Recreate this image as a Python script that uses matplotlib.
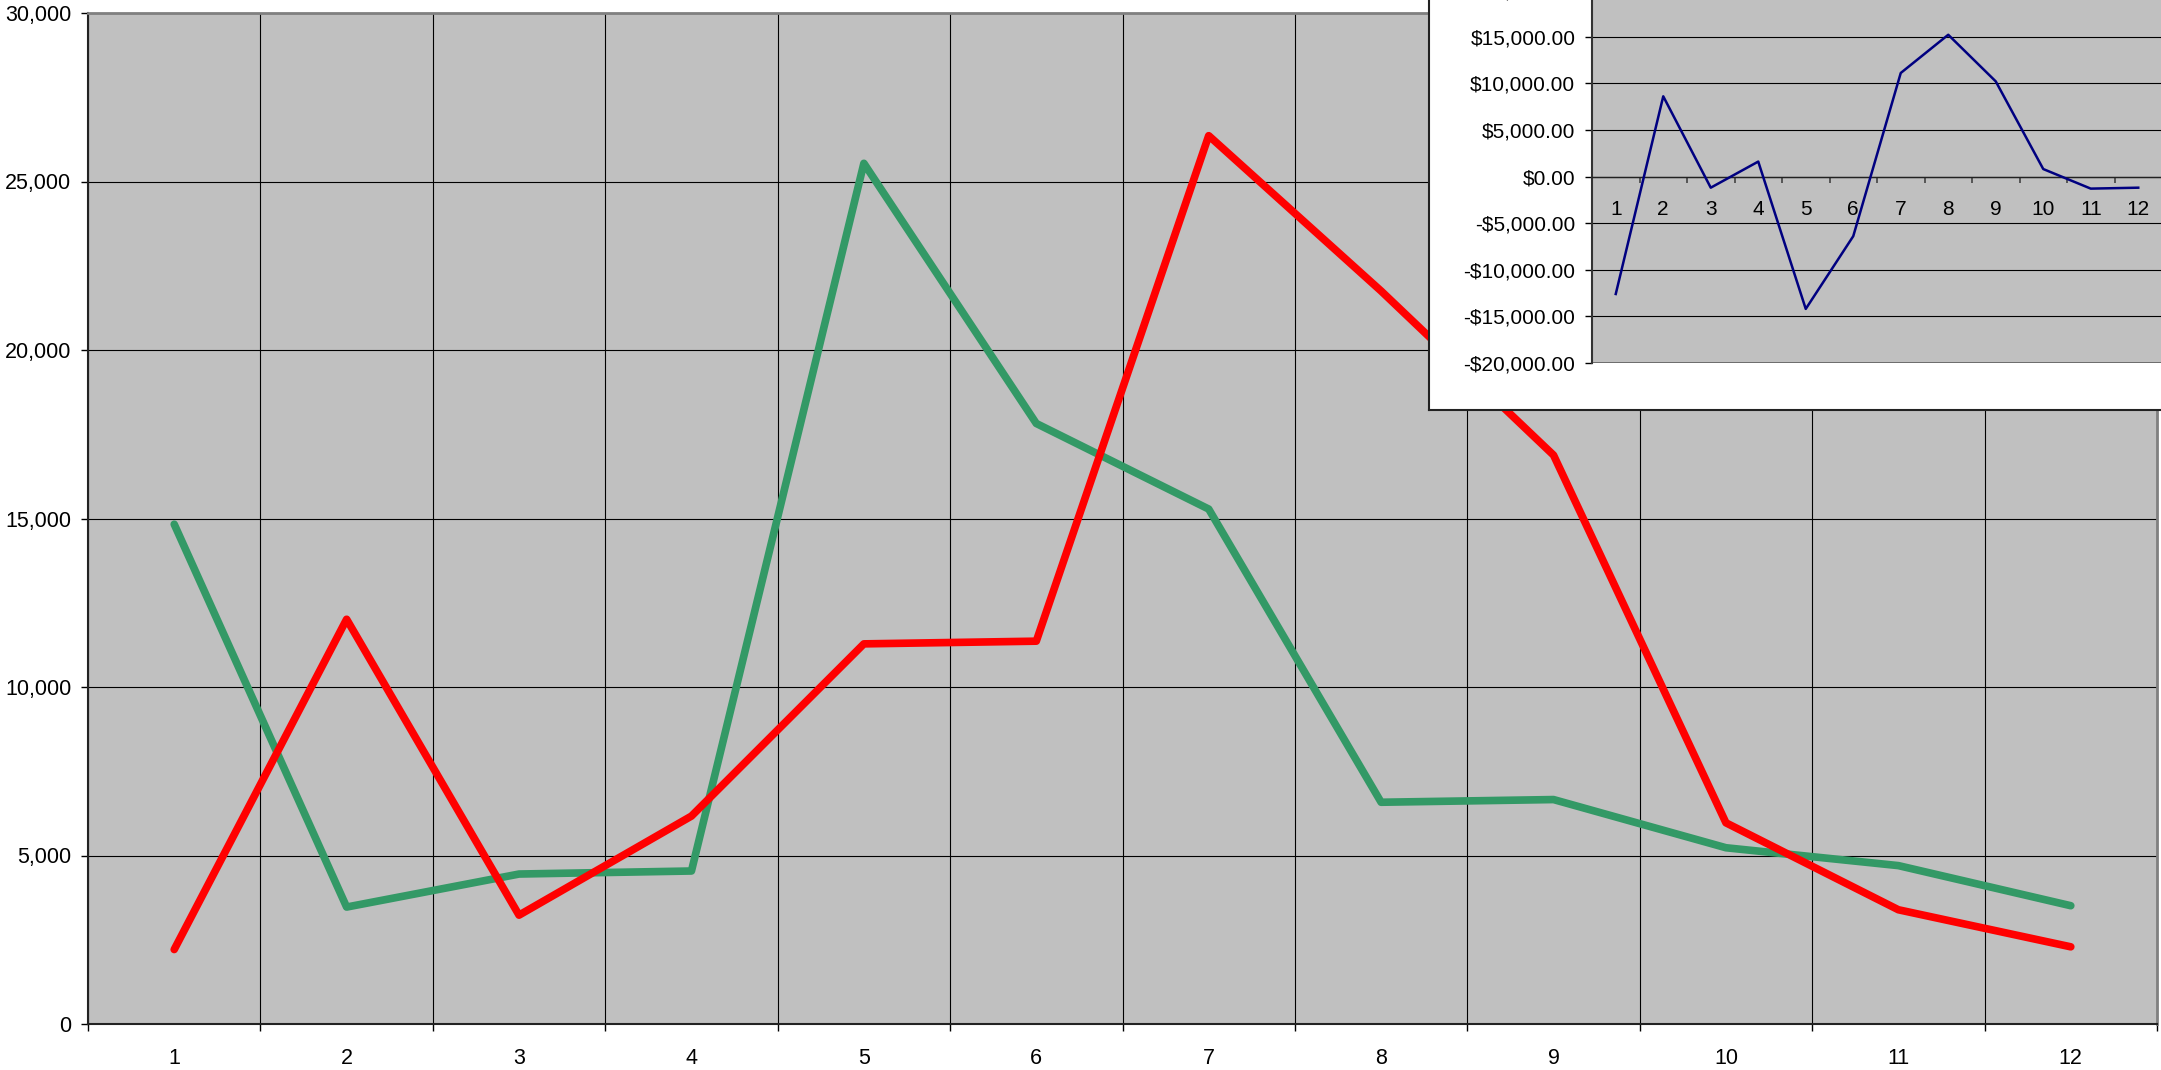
import matplotlib.pyplot as plt
import matplotlib.ticker as mticker
import numpy as np

plt.rcParams['font.family'] = ['Liberation Sans', 'DejaVu Sans']

months = np.arange(1, 13)
green_vals = [14830, 3470, 4450, 4540, 25540, 17820, 15280, 6580, 6660, 5230, 4700, 3510]
red_vals = [2210, 12010, 3230, 6170, 11280, 11360, 26360, 21750, 16880, 5970, 3390, 2290]
diff_vals = [-12600, 8600, -1200, 1600, -14200, -6400, 11100, 15200, 10200, 800, -1300, -1200]
month_labels = [str(m) for m in months]

W, H = 2161, 1070
fig = plt.figure(figsize=(W/100, H/100), dpi=100)

# main chart
ax = fig.add_axes([88/W, 1 - 1024/H, (2157-88)/W, (1024-13)/H])
ax.set_facecolor('#C0C0C0')
ax.plot(months, green_vals, color='#339966', lw=5.5, solid_capstyle='round', solid_joinstyle='round', zorder=3)
ax.plot(months, red_vals, color='#FF0000', lw=5.5, solid_capstyle='round', solid_joinstyle='round', zorder=4)
ax.set_xlim(0.5, 12.5)
ax.set_ylim(0, 30000)
ax.set_yticks(np.arange(0, 30001, 5000))
ax.yaxis.set_major_formatter(mticker.FuncFormatter(lambda v, p: '{:,.0f}'.format(v)))
ax.set_xticks(months)
ax.set_xticklabels(month_labels)
ax.set_xticks(np.arange(0.5, 12.6, 1), minor=True)
ax.tick_params(axis='x', which='major', length=0, pad=17, labelsize=15.5)
ax.tick_params(axis='x', which='minor', length=5, width=1, direction='out')
ax.tick_params(axis='y', length=5, width=1, pad=7, labelsize=15.5)
ax.grid(True, axis='y', which='major', color='black', lw=0.8)
ax.grid(True, axis='x', which='minor', color='black', lw=0.8)
ax.set_axisbelow(True)
for s in ['left', 'bottom']:
    ax.spines[s].set_color('#222222')
    ax.spines[s].set_linewidth(1.5)
for s in ['top', 'right']:
    ax.spines[s].set_color('#808080')
    ax.spines[s].set_linewidth(2)

# white box behind the inset
box = fig.add_axes([1429/W, 1 - 410/H, (2200-1429)/W, (410+20)/H])
box.set_xticks([])
box.set_yticks([])
box.set_facecolor('white')
for s in box.spines.values():
    s.set_color('#222222')
    s.set_linewidth(1.5)

# inset chart
ins = fig.add_axes([1592/W, 1 - 363/H, (2162-1592)/W, (363+10)/H])
ins.set_facecolor('#C0C0C0')
ins.plot(months, diff_vals, color='#000080', lw=1.8, zorder=3)
ins.set_xlim(0.5, 12.5)
ins.set_ylim(-20000, 20000)
ins.set_yticks(np.arange(-20000, 20001, 5000))


def money(v, p):
    s = '${:,.2f}'.format(abs(v))
    return '-' + s if v < 0 else s


ins.yaxis.set_major_formatter(mticker.FuncFormatter(money))
ins.spines['bottom'].set_position(('data', 0))
ins.spines['bottom'].set_color('#222222')
ins.spines['bottom'].set_linewidth(1)
ins.spines['left'].set_color('#333333')
ins.spines['left'].set_linewidth(1.5)
ins.spines['top'].set_visible(False)
ins.spines['right'].set_visible(False)
ins.set_xticks(months)
ins.set_xticklabels(month_labels)
ins.set_xticks(np.arange(0.5, 12.6, 1), minor=True)
ins.tick_params(axis='x', which='major', length=0, pad=17, labelsize=15)
ins.tick_params(axis='x', which='minor', length=4.5, width=1.2, color='#444444', direction='out')
ins.tick_params(axis='y', length=5, width=1, pad=7, labelsize=15)
ins.grid(True, axis='y', color='black', lw=0.8)
ins.axhline(-20000, color='#666666', lw=2, zorder=2)
ins.set_axisbelow(True)

fig.savefig('out.png', dpi=100)
